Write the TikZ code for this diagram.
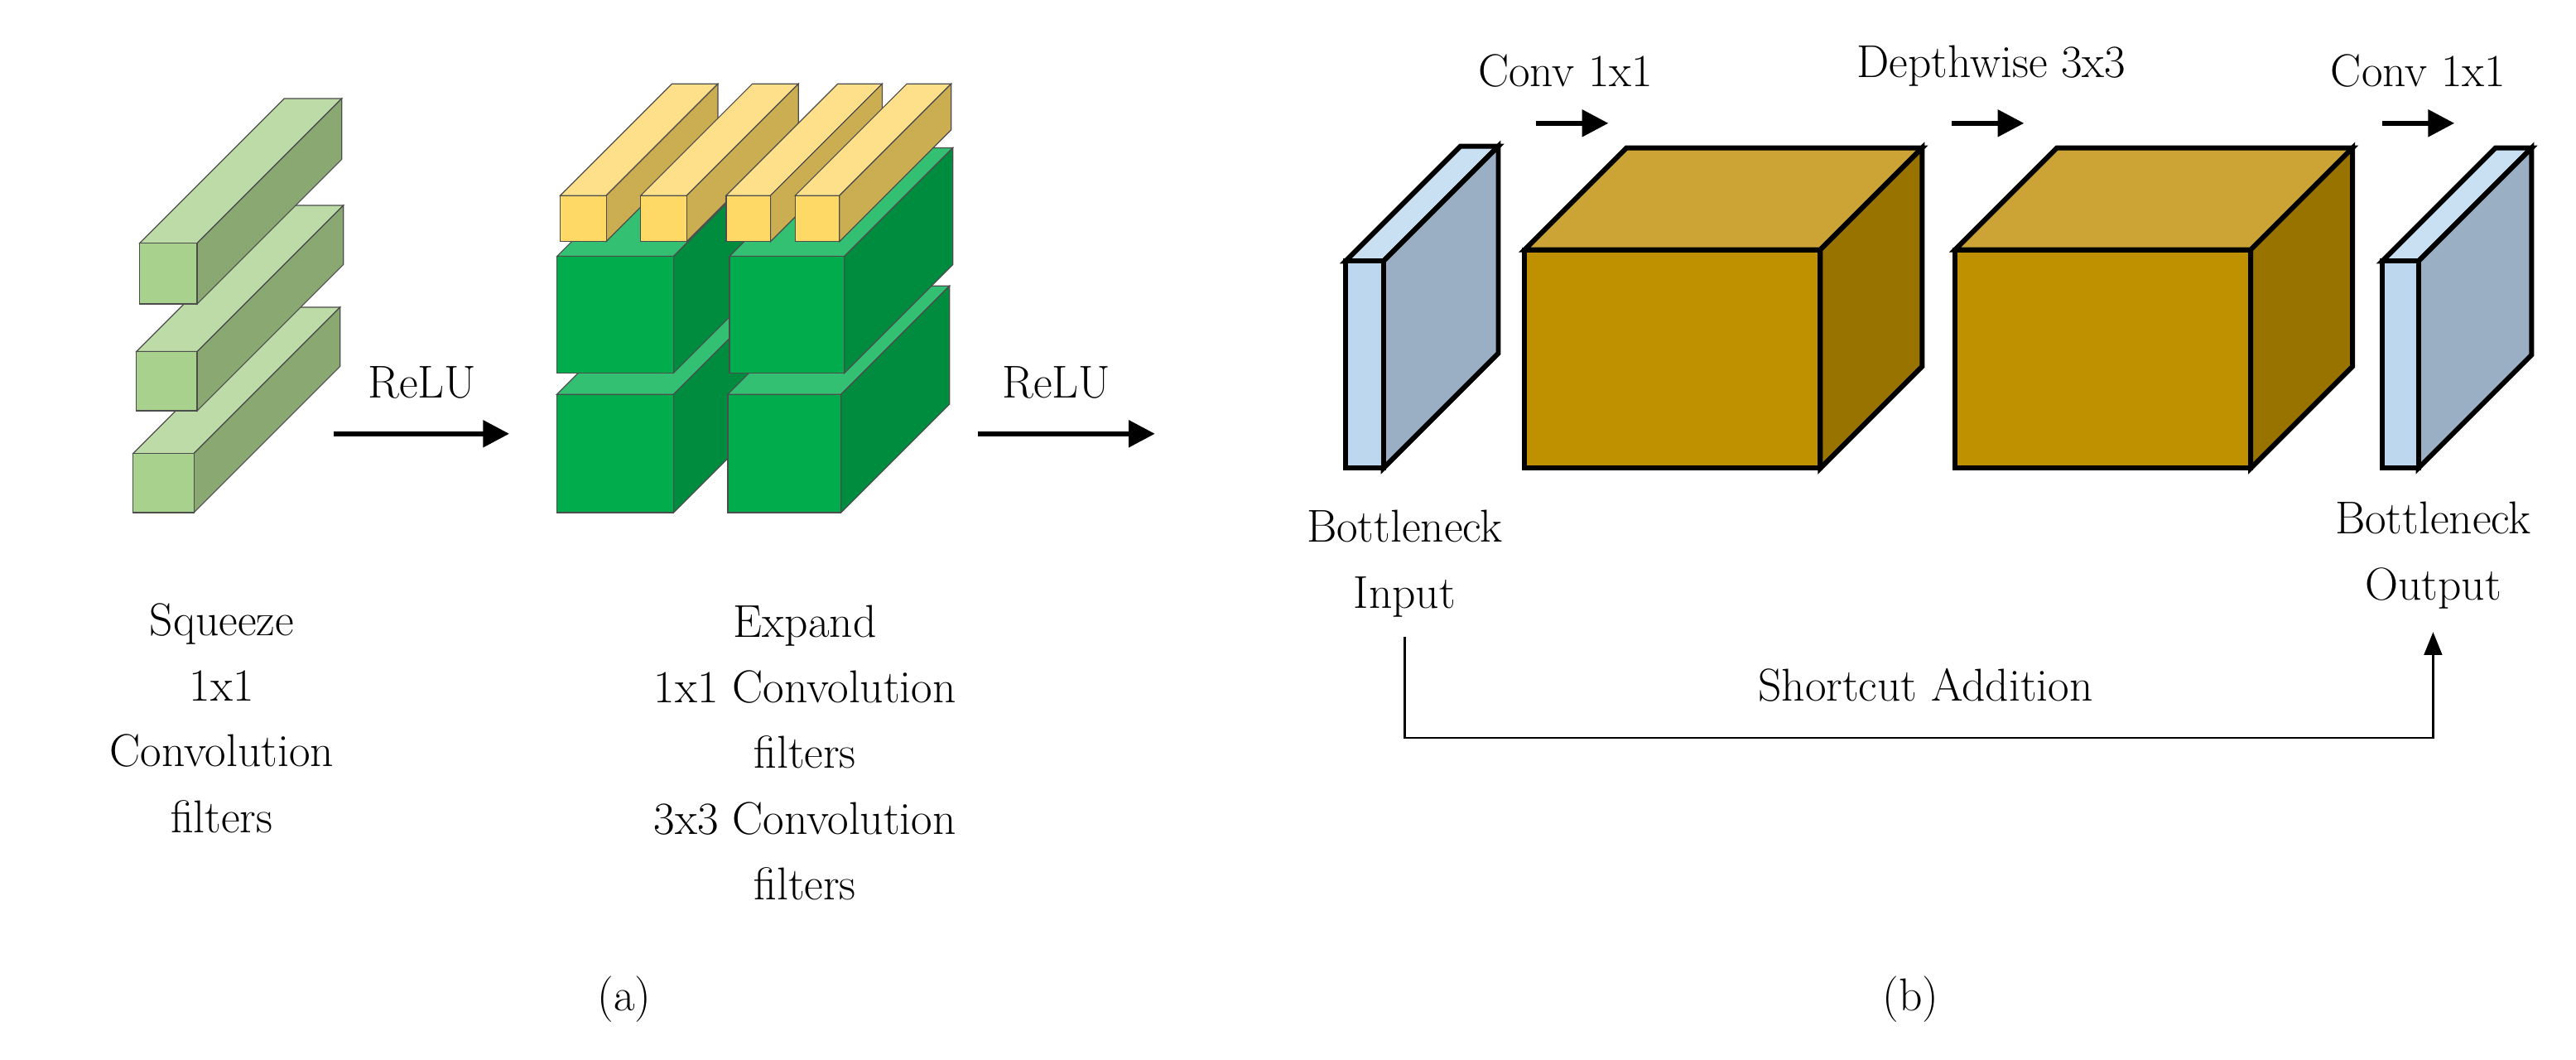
\documentclass[tikz,border=0pt]{standalone}
\usetikzlibrary{arrows.meta}
\definecolor{sqfront}{HTML}{A9D18E}
\definecolor{sqtop}{HTML}{BDDBA7}
\definecolor{sqside}{HTML}{8AA872}
\definecolor{exfront}{HTML}{00AC4B}
\definecolor{extop}{HTML}{33C072}
\definecolor{exside}{HTML}{008C3E}
\definecolor{yefront}{HTML}{FFD966}
\definecolor{yetop}{HTML}{FFE08A}
\definecolor{yeside}{HTML}{CCAE52}
\definecolor{plfront}{HTML}{BDD7EE}
\definecolor{pltop}{HTML}{C9DFF2}
\definecolor{plside}{HTML}{9AAFC3}
\definecolor{cbfront}{HTML}{BF9000}
\definecolor{cbtop}{HTML}{CCA435}
\definecolor{cbside}{HTML}{997300}

% x, y of front top-left corner, width, height, depth, front, top, side
\newcommand{\prism}[8]{%
  \filldraw[fill=#7] (#1,#2) -- ++(#5,-#5) -- ++(#3,0) -- ++(-#5,#5) -- cycle;
  \filldraw[fill=#8] (#1+#3,#2) -- ++(#5,-#5) -- ++(0,#4) -- ++(-#5,#5) -- cycle;
  \filldraw[fill=#6] (#1,#2) rectangle ++(#3,#4);}

\tikzset{
  lbl/.style={align=center, font=\fontsize{28}{40}\selectfont, inner sep=0pt},
  flow/.style={line width=3pt, -{Triangle[length=16pt,width=16pt]}},
  thin box/.style={draw=black!70, line width=0.6pt, line join=miter},
  thick box/.style={draw=black, line width=3pt, line join=miter}
}

\begin{document}
\begin{tikzpicture}[x=1pt, y=-1pt]
\useasboundingbox (0,0) rectangle (1568,645);

% (a) squeeze
\begin{scope}[thin box]
\prism{81}{276}{37}{36}{89}{sqfront}{sqtop}{sqside}
\prism{83}{214}{37}{36}{89}{sqfront}{sqtop}{sqside}
\prism{85}{148}{35}{37}{88}{sqfront}{sqtop}{sqside}
\end{scope}

% (a) expand
\begin{scope}[thin box]
\prism{339}{240}{71}{72}{66}{exfront}{extop}{exside}
\prism{443}{240}{69}{72}{66}{exfront}{extop}{exside}
\prism{339}{156}{71}{71}{66}{exfront}{extop}{exside}
\prism{444}{156}{70}{71}{66}{exfront}{extop}{exside}
\prism{341}{119}{28}{28}{68}{yefront}{yetop}{yeside}
\prism{390}{119}{28}{28}{68}{yefront}{yetop}{yeside}
\prism{442}{119}{27}{28}{68}{yefront}{yetop}{yeside}
\prism{484}{119}{27}{28}{68}{yefront}{yetop}{yeside}
\end{scope}

\node[lbl] (relua) at (257,233) {ReLU};
\coordinate (ra1) at (203,264);
\coordinate (ra2) at (310,264);
\draw[flow] (ra1) -- (ra2);
\node[lbl] (relub) at (643,233) {ReLU};
\coordinate (rb1) at (595,264);
\coordinate (rb2) at (703,264);
\draw[flow] (rb1) -- (rb2);

\node[lbl] (squeeze) at (135,437) {Squeeze\\1x1\\Convolution\\filters};
\node[lbl] (expand) at (490,458) {Expand\\1x1 Convolution\\filters\\3x3 Convolution\\filters};
\node[lbl] (capa) at (380,608) {(a)};

% (b) bottleneck
\begin{scope}[thick box]
\prism{819}{159}{23}{126}{70}{plfront}{pltop}{plside}
\prism{928}{152}{180}{133}{62}{cbfront}{cbtop}{cbside}
\prism{1190}{152}{180}{133}{62}{cbfront}{cbtop}{cbside}
\prism{1450}{159}{22}{126}{69}{plfront}{pltop}{plside}
\end{scope}

\node[lbl] (conva) at (953,43) {Conv 1x1};
\coordinate (ca1) at (935,75);
\coordinate (ca2) at (979,75);
\draw[flow] (ca1) -- (ca2);
\node[lbl] (dw) at (1212,40) {Depthwise 3x3};
\coordinate (da1) at (1188,75);
\coordinate (da2) at (1232,75);
\draw[flow] (da1) -- (da2);
\node[lbl] (convb) at (1472,43) {Conv 1x1};
\coordinate (cb1) at (1450,75);
\coordinate (cb2) at (1494,75);
\draw[flow] (cb1) -- (cb2);

\node[lbl] (bin) at (855,343) {Bottleneck\\Input};
\node[lbl] (bout) at (1481,338) {Bottleneck\\Output};
\node[lbl] (sclbl) at (1172,417) {Shortcut Addition};
\coordinate (sc) at (1172,449);
\draw[line width=1.2pt, -{Triangle[length=14pt,width=11pt]}]
  ([yshift=-12pt]bin.south) |- (sc) -| ([yshift=-14pt]bout.south);
\node[lbl] (capb) at (1163,608) {(b)};
\end{tikzpicture}
\end{document}
